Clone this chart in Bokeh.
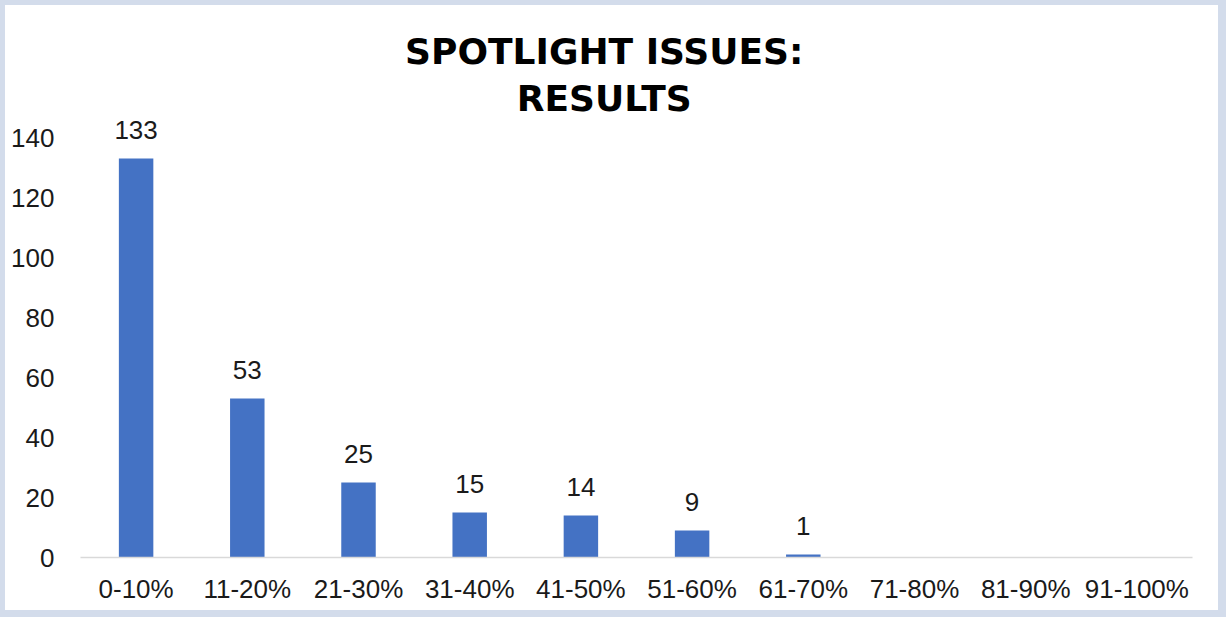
from bokeh.plotting import figure
from bokeh.models import ColumnDataSource, LabelSet, Label, FactorRange, Range1d, FixedTicker
from bokeh.core.properties import value
from bokeh.embed import file_html
from bokeh.resources import INLINE

# Share-of-score buckets and how many issues fell in each
categories = ["0-10%", "11-20%", "21-30%", "31-40%", "41-50%",
              "51-60%", "61-70%", "71-80%", "81-90%", "91-100%"]
counts = [133, 53, 25, 15, 14, 9, 1, 0, 0, 0]
y_ticks = [0, 20, 40, 60, 80, 100, 120, 140]
title_lines = ["SPOTLIGHT ISSUES:", "RESULTS"]

BAR_COLOR = "#4472C4"
TEXT_COLOR = "#1a1a1a"
FONT = "Liberation Sans"

source = ColumnDataSource(dict(
    cat=categories,
    count=counts,
    label=[str(c) if c else "" for c in counts],
))

# The plot frame runs up to the top of the canvas so the title can sit
# inside it; only the 0-140 ticks are labelled.
p = figure(
    width=1226, height=617,
    x_range=FactorRange(*categories, range_padding=0),
    y_range=Range1d(0, 184),
    output_backend="svg",
    toolbar_location=None,
    min_border_left=75, min_border_right=39,
    min_border_top=0, min_border_bottom=65,
    styles={
        "border-style": "solid",
        "border-color": "#D3DCEB",
        "border-width": "5px 8px 7px 5px",
    },
)

p.vbar(x="cat", top="count", width=0.31, source=source,
       fill_color=BAR_COLOR, line_color=None)

p.add_layout(LabelSet(
    x="cat", y="count", text="label", source=source,
    text_align="center", text_baseline="bottom", y_offset=20,
    text_font=value(FONT), text_font_size="26px", text_color=TEXT_COLOR,
))

# Two-line centred title
for text, y in zip(title_lines, [168.7, 153.0]):
    p.add_layout(Label(
        x=4.71, y=y, text=text,
        text_align="center", text_baseline="middle",
        text_font="DejaVu Sans", text_font_style="bold",
        text_font_size="36px", text_color="#000000",
    ))

p.xgrid.visible = False
p.ygrid.visible = False
p.outline_line_color = None
p.background_fill_color = "white"
p.border_fill_color = "white"

p.yaxis.ticker = FixedTicker(ticks=y_ticks)
p.yaxis.axis_line_color = None
p.yaxis.major_tick_line_color = None
p.yaxis.minor_tick_line_color = None
p.yaxis.major_label_standoff = 20
p.yaxis.major_label_text_font = FONT
p.yaxis.major_label_text_font_size = "26px"
p.yaxis.major_label_text_color = TEXT_COLOR

p.xaxis.axis_line_color = "#D9D9D9"
p.xaxis.axis_line_width = 1.5
p.xaxis.major_tick_line_color = None
p.xaxis.minor_tick_line_color = None
p.xaxis.major_label_standoff = 10
p.xaxis.major_label_text_font = FONT
p.xaxis.major_label_text_font_size = "26px"
p.xaxis.major_label_text_color = TEXT_COLOR

open("out.html", "w").write(file_html(p, INLINE))
